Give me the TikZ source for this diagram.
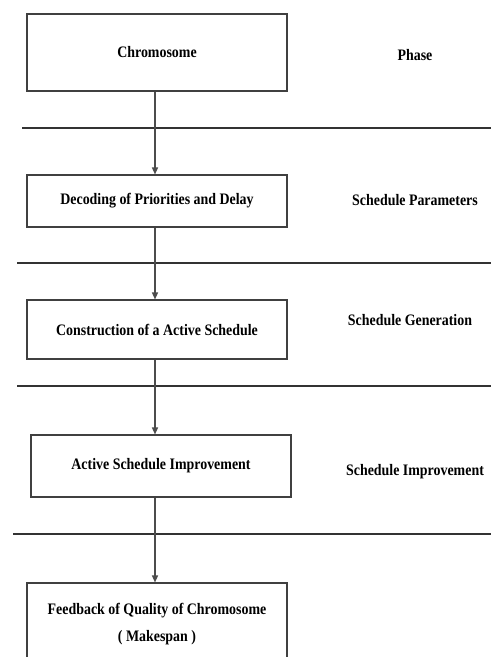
\documentclass[tikz,border=0pt]{standalone}
\usepackage{fontspec}
\setmainfont{Liberation Serif}[FakeStretch=0.87]
\usetikzlibrary{arrows.meta}
\tikzset{
  stage/.style={draw=black!75, line width=1.1pt, minimum width=260pt, inner sep=0pt,
    align=center, font=\bfseries\fontsize{16}{27}\selectfont},
  phase/.style={font=\bfseries\fontsize{16}{19}\selectfont},
  sepline/.style={draw=black!80, line width=1.8pt},
  flow/.style={-{Triangle[length=7pt,width=6pt]}, draw=black!70, line width=1.4pt}
}
\begin{document}
\begin{tikzpicture}[x=1pt,y=-1pt]
  \useasboundingbox (0,0) rectangle (491,657);
  \clip (0,0) rectangle (491,657);
  % stages
  \node[stage, minimum height=77pt] (chrom) at (157,52.5) {Chromosome};
  \node[stage, minimum height=52pt] (decode) at (157,201) {Decoding of Priorities and Delay};
  \node[stage, minimum height=59pt] (gen) at (157,329.5) {Construction of a Active Schedule};
  \node[stage, minimum height=62pt] (improve) at (161,466) {Active Schedule Improvement};
  \node[stage, minimum height=82pt] (feed) at (157,624) {Feedback of Quality of Chromosome\\( Makespan )};
  % phases
  \node[phase] (ph) at (415,55) {Phase};
  \node[phase] (par) at (415,200) {Schedule Parameters};
  \node[phase] (pgen) at (410,320) {Schedule Generation};
  \node[phase] (pimp) at (415,472) {Schedule Improvement};
  % separators
  \draw[sepline] (22,128) -- (491,128);
  \draw[sepline] (17,263) -- (491,263);
  \draw[sepline] (17,386) -- (491,386);
  \draw[sepline] (13,534) -- (491,534);
  % flow
  \draw[flow] ([xshift=-2pt]chrom.south) -- ([xshift=-2pt]decode.north);
  \draw[flow] ([xshift=-2pt]decode.south) -- ([xshift=-2pt]gen.north);
  \draw[flow] ([xshift=-2pt]gen.south) -- ([xshift=-2pt]gen.south |- improve.north);
  \draw[flow] ([xshift=-2pt]gen.south |- improve.south) -- ([xshift=-2pt]feed.north);
\end{tikzpicture}
\end{document}
